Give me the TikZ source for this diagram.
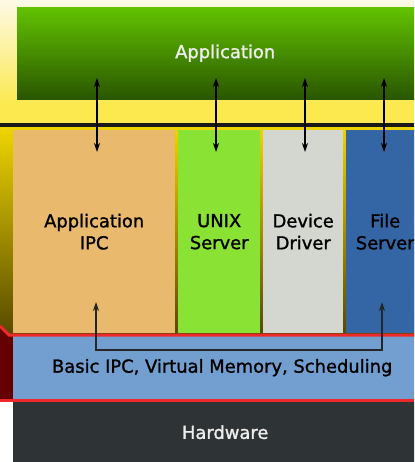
\documentclass[tikz,border=0pt]{standalone}
\usepackage{fontspec}
\setmainfont{DejaVu Sans}[FakeBold=1.3]
\usetikzlibrary{arrows.meta}
\definecolor{cream}{HTML}{FDF9E6}
\definecolor{yel}{HTML}{FCE94F}
\definecolor{colTop}{HTML}{EFD600}
\definecolor{colBot}{HTML}{574900}
\definecolor{grTop}{HTML}{62C300}
\definecolor{grBot}{HTML}{2A5600}
\definecolor{tan}{HTML}{E9B96E}
\definecolor{lgreen}{HTML}{8AE234}
\definecolor{lgray}{HTML}{D3D7CF}
\definecolor{dblue}{HTML}{3465A4}
\definecolor{kblue}{HTML}{729FCF}
\definecolor{kred}{HTML}{EF2929}
\definecolor{dred}{HTML}{640000}
\definecolor{hw}{HTML}{2E3436}
\definecolor{light}{HTML}{EEEEEC}
\begin{document}
\begin{tikzpicture}[x=1pt,y=-1pt,
  font=\fontsize{17.9}{22}\selectfont,
  box/.style={draw=none, inner sep=0pt, anchor=north west, align=center},
  link/.style={line width=1.1pt, black, {Stealth[length=9pt,width=6pt]}-{Stealth[length=9pt,width=6pt]}},
  redline/.style={line width=3pt, kred}]
\useasboundingbox (0,0) rectangle (414,462);
\clip (0,0) rectangle (414,462);
\fill[white] (0,0) rectangle (414,462);
% backgrounds
\shade[top color=cream, bottom color=yel] (0,0) rectangle (414,104);
\fill[yel] (0,103) rectangle (414,125);
\shade[top color=colTop, bottom color=colBot] (0,126) rectangle (414,335);
\fill[black!90] (0,123.5) rectangle (414,127);
% application (extends past the cropped right edge)
\node[box, minimum width=416pt, minimum height=92pt, top color=grTop, bottom color=grBot, text=light] (app) at (17,7) {\raisebox{-2pt}{Application}};
% columns
\node[box, minimum width=162pt, minimum height=203pt, fill=tan] (ipc) at (13,130) {Application\\IPC};
\node[box, minimum width=82pt, minimum height=203pt, fill=lgreen] (unix) at (178,130) {UNIX\\Server};
\node[box, minimum width=80pt, minimum height=203pt, fill=lgray] (dev) at (263,130) {Device\\Driver};
\node[box, minimum width=78pt, minimum height=203pt, fill=dblue] (file) at (346,130) {File\\Server};
% kernel
\fill[dred] (0,327) -- (9,335) -- (13,335) -- (13,401) -- (0,401) -- cycle;
\node[box, minimum width=418pt, minimum height=63pt, fill=kblue] (kern) at (13,336) {\raisebox{-3pt}{Basic IPC, Virtual Memory, Scheduling}};
\draw[redline] (0,326) -- (9,335) -- (414,335);
\draw[redline] (0,400) -- (414,400);
% hardware
\node[box, minimum width=424pt, minimum height=60pt, fill=hw, text=light] (hwbox) at (13,402) {\raisebox{-2pt}{Hardware}};
% arrows
\coordinate (t1) at (97,78);  \coordinate (b1) at (97,152);
\coordinate (t2) at (216,78); \coordinate (b2) at (216,152);
\coordinate (t3) at (305,78); \coordinate (b3) at (305,152);
\coordinate (t4) at (384,78); \coordinate (b4) at (384,152);
\draw[link] (t1) -- (b1);
\draw[link] (t2) -- (b2);
\draw[link] (t3) -- (b3);
\draw[link] (t4) -- (b4);
\coordinate (k1) at (96,302);
\coordinate (k2) at (382,302);
\draw[link, black!85] (k1) -- (96,350) -- (382,350) -- (k2);
\end{tikzpicture}
\end{document}
